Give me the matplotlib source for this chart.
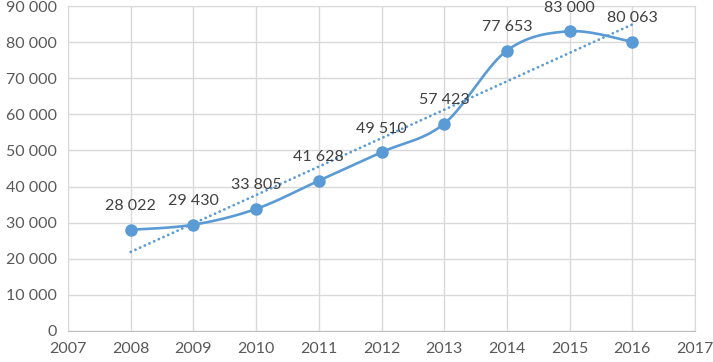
import numpy as np
import matplotlib
matplotlib.use("Agg")
import matplotlib.pyplot as plt
from matplotlib.ticker import FuncFormatter, MultipleLocator

years = [2008, 2009, 2010, 2011, 2012, 2013, 2014, 2015, 2016]
values = [28022, 29430, 33805, 41628, 49510, 57423, 77653, 83000, 80063]

blue = "#5B9BD5"
grid_c = "#D9D9D9"
txt_c = "#595959"

plt.rcParams['font.family'] = ['Lato', 'DejaVu Sans']


def smooth(xs, ys, sx, sy, steps=40):
    # Catmull-Rom / Bezier style smoothing like the spreadsheet, in scaled units
    p = np.column_stack([np.asarray(xs, float) * sx, np.asarray(ys, float) * sy])
    out = [p[0]]
    for i in range(len(p) - 1):
        p0 = p[i - 1] if i > 0 else p[i]
        p1, p2 = p[i], p[i + 1]
        p3 = p[i + 2] if i + 2 < len(p) else p[i + 1]
        c1 = p1 + (p2 - p0) / 6.0
        c2 = p2 - (p3 - p1) / 6.0
        t = np.linspace(0, 1, steps)[1:, None]
        seg = ((1 - t) ** 3) * p1 + 3 * ((1 - t) ** 2) * t * c1 + 3 * (1 - t) * t ** 2 * c2 + t ** 3 * p2
        out.extend(seg)
    out = np.array(out)
    return out[:, 0] / sx, out[:, 1] / sy


fig = plt.figure(figsize=(7.13, 3.62), dpi=100)
ax = fig.add_axes([68 / 713, 1 - 331 / 362, (695 - 68) / 713, (331 - 6) / 362])

ax.set_xlim(2007, 2017)
ax.set_ylim(0, 90000)

sx = 62.7
sy = 325 / 90000
cx, cy = smooth(years, values, sx, sy)
ax.plot(cx, cy, color=blue, lw=1.9, zorder=3, solid_capstyle="round")
ax.plot(years, values, "o", color=blue, ms=8, zorder=4)

# linear trend line
k, b = np.polyfit(years, values, 1)
tx = np.array([years[0], years[-1]])
ax.plot(tx, k * tx + b, color=blue, lw=2.0, ls=(0, (0.05, 1.8)), dash_capstyle="round", zorder=2)

for x, y in zip(years, values):
    ax.annotate(f"{y:,}".replace(",", " "), (x, y), xytext=(0, 12), textcoords="offset points",
                ha="center", va="bottom", fontsize=11.5, color="#404040", zorder=5)

ax.xaxis.set_major_locator(MultipleLocator(1))
ax.yaxis.set_major_locator(MultipleLocator(10000))
ax.yaxis.set_major_formatter(FuncFormatter(lambda v, p: f"{int(v):,}".replace(",", " ")))
ax.grid(True, color=grid_c, lw=1)
ax.set_axisbelow(True)
for s in ax.spines.values():
    s.set_color(grid_c)
ax.spines['bottom'].set_color("#BFBFBF")
ax.tick_params(length=0, labelsize=11.5, labelcolor=txt_c, pad=8)

fig.savefig("out.png", dpi=100)
